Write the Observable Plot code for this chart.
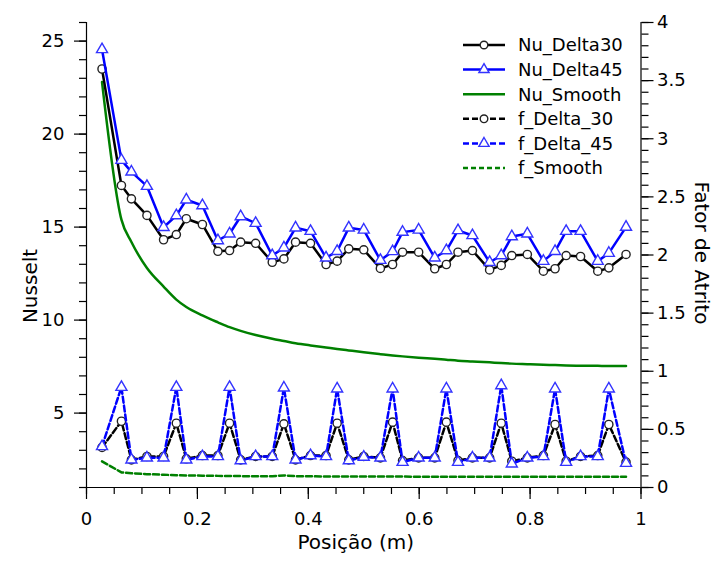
<!DOCTYPE html>
<html><head><meta charset="utf-8">
<script src="https://cdn.jsdelivr.net/npm/d3@7"></script>
<script src="https://cdn.jsdelivr.net/npm/@observablehq/plot@0.6"></script>
<style>
body{margin:0;background:#fff;}
#wrap{position:relative;width:722px;height:561px;}
#legend{position:absolute;left:0;top:0;}
</style></head><body><div id="wrap"></div><script>
const FONT = '"DejaVu Sans",sans-serif';

const posicao = [0.028, 0.063, 0.081, 0.109, 0.139, 0.162, 0.180, 0.209, 0.237, 0.258, 0.278, 0.305, 0.335, 0.356, 0.377, 0.404, 0.432, 0.452, 0.473, 0.500, 0.530, 0.552, 0.570, 0.599, 0.628, 0.649, 0.670, 0.696, 0.727, 0.748, 0.767, 0.795, 0.824, 0.845, 0.865, 0.891, 0.922, 0.942, 0.973];

const nuDelta30 = [23.5, 17.24, 16.52, 15.63, 14.32, 14.60, 15.45, 15.14, 13.70, 13.74, 14.19, 14.13, 13.11, 13.29, 14.19, 14.13, 12.99, 13.17, 13.83, 13.78, 12.78, 12.99, 13.65, 13.65, 12.76, 12.99, 13.65, 13.74, 12.70, 12.94, 13.47, 13.53, 12.63, 12.76, 13.47, 13.42, 12.63, 12.81, 13.53];

const nuDelta45 = [24.55, 18.6, 17.97, 17.2, 14.99, 15.62, 16.47, 16.16, 14.28, 14.64, 15.57, 15.21, 13.47, 13.89, 14.96, 14.78, 13.35, 13.70, 14.96, 14.85, 13.22, 13.69, 14.73, 14.85, 13.35, 13.74, 14.82, 14.55, 13.11, 13.47, 14.49, 14.64, 13.17, 13.70, 14.78, 14.78, 13.17, 13.60, 15.0];

const nuSmooth = [22.8, 15.4, 14.2, 12.8, 11.8, 11.1, 10.7, 10.25, 9.88, 9.62, 9.42, 9.2, 9.0, 8.88, 8.76, 8.64, 8.53, 8.45, 8.37, 8.27, 8.17, 8.1, 8.05, 7.98, 7.92, 7.87, 7.82, 7.78, 7.73, 7.69, 7.66, 7.63, 7.6, 7.58, 7.56, 7.55, 7.54, 7.53, 7.53];

const fDelta30 = [0.345, 0.570, 0.238, 0.267, 0.267, 0.553, 0.247, 0.275, 0.275, 0.553, 0.238, 0.267, 0.267, 0.548, 0.238, 0.275, 0.275, 0.553, 0.238, 0.267, 0.255, 0.562, 0.232, 0.255, 0.255, 0.562, 0.232, 0.255, 0.255, 0.553, 0.226, 0.255, 0.275, 0.542, 0.226, 0.267, 0.275, 0.542, 0.218];

const fDelta45 = [0.353, 0.863, 0.238, 0.255, 0.255, 0.863, 0.238, 0.267, 0.267, 0.863, 0.232, 0.267, 0.267, 0.857, 0.238, 0.275, 0.267, 0.849, 0.232, 0.262, 0.255, 0.849, 0.218, 0.255, 0.255, 0.849, 0.218, 0.255, 0.255, 0.877, 0.204, 0.255, 0.267, 0.849, 0.218, 0.267, 0.267, 0.849, 0.209];

const fSmooth = [0.225, 0.13, 0.122, 0.115, 0.11, 0.106, 0.104, 0.102, 0.1, 0.099, 0.098, 0.097, 0.097, 0.104, 0.097, 0.096, 0.095, 0.095, 0.095, 0.094, 0.094, 0.094, 0.094, 0.093, 0.093, 0.093, 0.093, 0.093, 0.093, 0.093, 0.092, 0.092, 0.092, 0.092, 0.092, 0.092, 0.092, 0.092, 0.092];

const xMajor = [0, 0.2, 0.4, 0.6, 0.8, 1];
const xMinor = d3.range(0, 21).map(i => i * 0.05);
const nuMajor = [5, 10, 15, 20, 25];
const nuMinor = d3.range(1, 27);
const fMajor = [0, 0.5, 1, 1.5, 2, 2.5, 3, 3.5, 4];
const fMinor = d3.range(0, 41).map(i => i / 10);

const seriesNames = ["Nu_Delta30", "Nu_Delta45", "Nu_Smooth", "f_Delta_30", "f_Delta_45", "f_Smooth"];

// right axis (Fator de Atrito, 0..4) drawn on the Nusselt scale (1..26)
const fToNu = f => 1 + f * 25 / 4;
const nuToF = v => Math.round((v - 1) * 4 / 25 * 100) / 100;

const rows = posicao.map((x, i) => ({
  x, n30: nuDelta30[i], n45: nuDelta45[i], ns: nuSmooth[i],
  f30: fToNu(fDelta30[i]), f45: fToNu(fDelta45[i]), fs: fToNu(fSmooth[i])
}));

const BLACK = "#000000", BLUE = "#0000ff", GREEN = "#008000";
const CIRC = "#222222", TRI = "#3333ff";
const fmt = d => String(+d.toFixed(2));

const chart = Plot.plot({
  width: 722, height: 561,
  marginLeft: 86, marginRight: 81.5, marginTop: 22, marginBottom: 74,
  x: {domain: [0, 1]},
  y: {domain: [1, 26]},
  style: {fontFamily: FONT, fontSize: "18px", color: "#000", background: "white"},
  marks: [
    Plot.ruleX([0], {stroke: "#000", strokeWidth: 1.2}),
    Plot.ruleX([1], {stroke: "#000", strokeWidth: 1.2}),
    Plot.ruleY([1], {stroke: "#000", strokeWidth: 1.2}),
    Plot.axisX(xMinor, {tickSize: 7, tickFormat: () => "", label: null, strokeWidth: 1.2}),
    Plot.axisX(xMajor, {tickSize: 12, tickPadding: 13, tickFormat: fmt, label: null, strokeWidth: 1.2, fontSize: 18}),
    Plot.axisY(nuMinor, {anchor: "left", tickSize: 7, tickFormat: () => "", label: null, strokeWidth: 1.2}),
    Plot.axisY(nuMajor, {anchor: "left", tickSize: 12, tickPadding: 10, tickFormat: fmt, label: null, strokeWidth: 1.2, fontSize: 18}),
    Plot.axisY(fMinor.map(fToNu), {anchor: "right", tickSize: 7, tickFormat: () => "", label: null, strokeWidth: 1.2}),
    Plot.axisY(fMajor.map(fToNu), {anchor: "right", tickSize: 12, tickPadding: 4, tickFormat: d => String(nuToF(d)), label: null, strokeWidth: 1.2, fontSize: 18}),
    Plot.text(["Posição (m)"], {frameAnchor: "bottom", textAnchor: "middle", dx: -8, dy: 61, fontSize: 20, fontFamily: FONT}),
    Plot.text(["Nusselt"], {frameAnchor: "left", textAnchor: "middle", dx: -56, dy: 31, rotate: -90, fontSize: 20, fontFamily: FONT}),
    Plot.text(["Fator de Atrito"], {frameAnchor: "right", textAnchor: "middle", dx: 60, dy: -2, rotate: 90, fontSize: 20, fontFamily: FONT}),

    Plot.line(rows, {x: "x", y: "fs", stroke: GREEN, strokeWidth: 2.5, strokeDasharray: "6,3"}),
    Plot.line(rows, {x: "x", y: "f30", stroke: BLACK, strokeWidth: 2.5, strokeDasharray: "6,3"}),
    Plot.dot(rows, {x: "x", y: "f30", r: 4.1, stroke: CIRC, fill: "white", strokeWidth: 1.4}),
    Plot.line(rows, {x: "x", y: "f45", stroke: BLUE, strokeWidth: 2.5, strokeDasharray: "6,3"}),
    Plot.dot(rows, {x: "x", y: "f45", symbol: "triangle", r: 4.1, stroke: TRI, fill: "white", strokeWidth: 1.4}),

    Plot.line(rows, {x: "x", y: "ns", stroke: GREEN, strokeWidth: 2.5, curve: "monotone-x"}),
    Plot.line(rows, {x: "x", y: "n30", stroke: BLACK, strokeWidth: 2.5}),
    Plot.dot(rows, {x: "x", y: "n30", r: 4.1, stroke: CIRC, fill: "white", strokeWidth: 1.4}),
    Plot.line(rows, {x: "x", y: "n45", stroke: BLUE, strokeWidth: 2.5}),
    Plot.dot(rows, {x: "x", y: "n45", symbol: "triangle", r: 4.1, stroke: TRI, fill: "white", strokeWidth: 1.4})
  ]
});
document.getElementById("wrap").appendChild(chart);

// Legend overlay
const legendStyles = [
  {color: BLACK, dash: null, sym: "circle"},
  {color: BLUE, dash: null, sym: "triangle"},
  {color: GREEN, dash: null, sym: null},
  {color: BLACK, dash: "6,3", sym: "circle"},
  {color: BLUE, dash: "6,3", sym: "triangle"},
  {color: GREEN, dash: "5,3", sym: null}
];
const leg = d3.select("#wrap").append("svg").attr("id", "legend")
  .attr("width", 722).attr("height", 561)
  .style("pointer-events", "none");
const lx0 = 463, lx1 = 505, ltx = 518, ly0 = 45, ldy = 24.6;
seriesNames.forEach((name, i) => {
  const st = legendStyles[i];
  const y = ly0 + i * ldy;
  const g = leg.append("g");
  g.append("line").attr("x1", lx0).attr("x2", lx1).attr("y1", y).attr("y2", y)
    .attr("stroke", st.color).attr("stroke-width", 2.5)
    .attr("stroke-dasharray", st.dash);
  if (st.sym === "circle") {
    g.append("circle").attr("cx", (lx0 + lx1) / 2).attr("cy", y).attr("r", 3.8)
      .attr("fill", "white").attr("stroke", CIRC).attr("stroke-width", 1.4);
  } else if (st.sym === "triangle") {
    g.append("path").attr("transform", `translate(${(lx0 + lx1) / 2},${y})`)
      .attr("d", d3.symbol(d3.symbolTriangle, Math.PI * 3.8 * 3.8)())
      .attr("fill", "white").attr("stroke", TRI).attr("stroke-width", 1.4);
  }
  g.append("text").attr("x", ltx).attr("y", y).attr("dy", "0.36em")
    .attr("font-family", FONT).attr("font-size", 18).text(name);
});
</script></body></html>
